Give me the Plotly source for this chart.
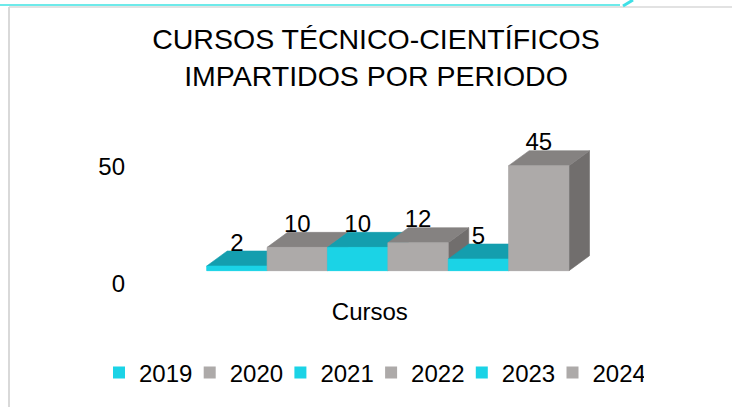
import plotly.graph_objects as go

# ---------------- data ----------------
categories = ["Cursos"]
years = ["2019", "2020", "2021", "2022", "2023", "2024"]
values = [2, 10, 10, 12, 5, 45]
y_ticks = [0, 50]
title_text = "CURSOS TÉCNICO-CIENTÍFICOS<br>IMPARTIDOS POR PERIODO"

# ---------------- style ----------------
CYAN = dict(front="#1BD3E6", top="#149EAE", side="#118A97")
GRAY = dict(front="#ADAAA9", top="#858281", side="#716E6D")
palette = [CYAN, GRAY, CYAN, GRAY, CYAN, GRAY]

FONT = "Liberation Sans, Arial, sans-serif"
DEPTH_X = 0.34     # projected depth (category units)
DEPTH_Y = 6.43     # projected depth (value units)
LABEL_GAP = 2.7    # label offset above the back top edge (value units)
HALF = 0.5

W, H = 732, 407
L, R, T, B = 130, 612, 100, 295

fig = go.Figure()

# front faces as bars (also provide the legend)
for i, (yr, v) in enumerate(zip(years, values)):
    fig.add_trace(go.Bar(
        x=[i], y=[v], width=2 * HALF, name=yr,
        marker=dict(color=palette[i]["front"], line=dict(width=0)),
        hoverinfo="skip", showlegend=True,
    ))

# 3D faces drawn in painter's order (left to right)
def poly(xs, ys, color):
    fig.add_trace(go.Scatter(
        x=xs + [xs[0]], y=ys + [ys[0]], mode="lines", fill="toself",
        fillcolor=color, line=dict(width=0.6, color=color),
        hoverinfo="skip", showlegend=False,
    ))

for i, v in enumerate(values):
    c = palette[i]
    xl, xr = i - HALF, i + HALF
    poly([xr, xr, xr + DEPTH_X, xr + DEPTH_X], [0, v, v + DEPTH_Y, DEPTH_Y], c["side"])
    poly([xl, xr, xr + DEPTH_X, xl + DEPTH_X], [v, v, v + DEPTH_Y, v + DEPTH_Y], c["top"])
    poly([xl, xr, xr, xl], [0, 0, v, v], c["front"])

# data labels
fig.add_trace(go.Scatter(
    x=list(range(len(values))),
    y=[v + DEPTH_Y + LABEL_GAP for v in values],
    text=[str(v) for v in values], mode="text", textposition="middle center",
    textfont=dict(size=24, color="#000000", family=FONT),
    hoverinfo="skip", showlegend=False,
))

# ---------------- axes geometry ----------------
px_per_x = 60.38
px_per_y = 2.333
front_left_px = 206.7
front_zero_px = 270.7
x0 = -HALF - (front_left_px - L) / px_per_x
x1 = x0 + (R - L) / px_per_x
y0 = -(B - front_zero_px) / px_per_y
y1 = y0 + (B - T) / px_per_y

def xp(px):
    return (px - L) / (R - L)

def yp(py):
    return (B - py) / (B - T)

shapes = [
    # frame
    dict(type="line", xref="paper", yref="paper", x0=xp(9), x1=xp(9), y0=yp(7), y1=yp(407),
         line=dict(color="#D9D9D9", width=2)),
    dict(type="line", xref="paper", yref="paper", x0=xp(9), x1=xp(732), y0=yp(7), y1=yp(7),
         line=dict(color="#D9D9D9", width=1.5)),
    # cyan accents
    dict(type="line", xref="paper", yref="paper", x0=xp(0), x1=xp(620), y0=yp(5), y1=yp(5),
         line=dict(color="#6EEAEA", width=2)),
    dict(type="line", xref="paper", yref="paper", x0=xp(623), x1=xp(633), y0=yp(6), y1=yp(0),
         line=dict(color="#3FE0E6", width=3)),
]

LEG_BW = 12
fig.update_layout(
    width=W, height=H,
    margin=dict(l=L, r=W - R, t=T, b=H - B, pad=0, autoexpand=False),
    paper_bgcolor="white", plot_bgcolor="white",
    font=dict(family=FONT, color="#000000", size=24),
    barmode="overlay",
    title=dict(text=title_text, x=376 / W, xanchor="center", xref="container",
               y=1 - 49 / H, yanchor="top", yref="container",
               font=dict(size=28.5, family=FONT, color="#000000")),
    xaxis=dict(range=[x0, x1], showgrid=False, zeroline=False, showline=False,
               tickvals=[(len(values) - 1) / 2], ticktext=categories, ticks="",
               ticklabelshift=-18, tickfont=dict(size=24)),
    yaxis=dict(range=[y0, y1], showgrid=False, zeroline=False, showline=False,
               tickvals=y_ticks, ticks="", ticklabelshift=13, ticklabelstandoff=4,
               tickfont=dict(size=24)),
    legend=dict(orientation="h", x=xp(99 - LEG_BW), xanchor="left", y=yp(372.8), yanchor="middle",
                font=dict(size=24), entrywidth=45.7, bgcolor="rgba(0,0,0,0)",
                borderwidth=LEG_BW, bordercolor="rgba(0,0,0,0)"),
    shapes=shapes,
    showlegend=True,
)

fig.write_html("out.html", config={"displayModeBar": False},
               post_script="document.body.style.margin='0px';")
